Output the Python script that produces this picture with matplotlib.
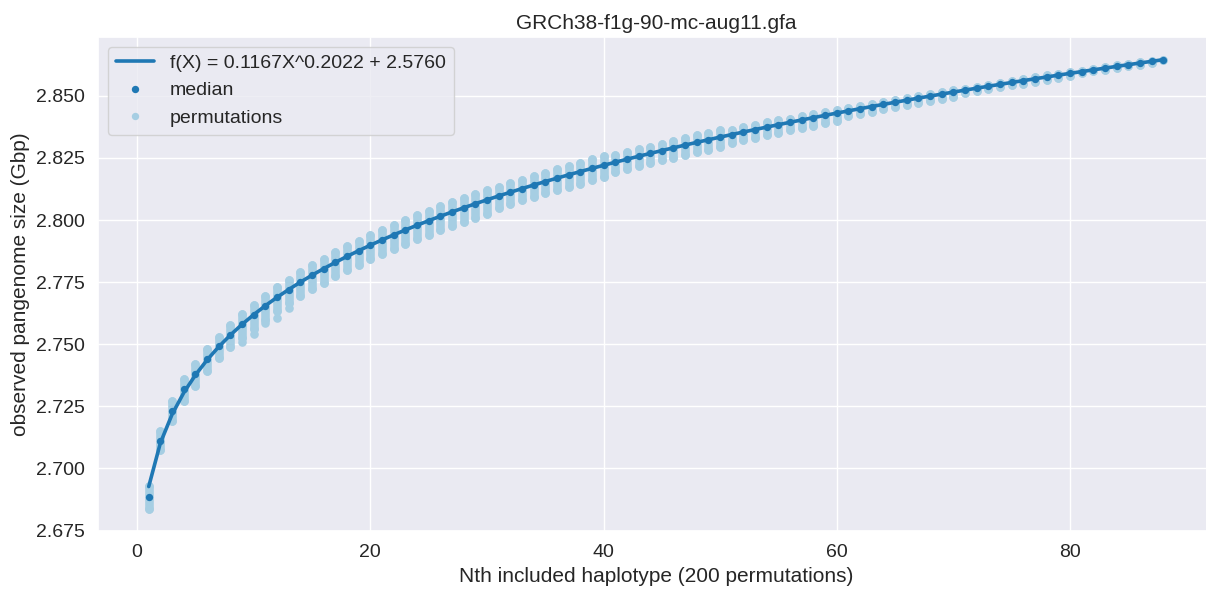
import matplotlib
matplotlib.use("Agg")
import matplotlib.pyplot as plt
import seaborn as sns
import numpy as np
from matplotlib.lines import Line2D

sns.set_theme(style="darkgrid")
plt.rcParams['font.family'] = ['Liberation Sans', 'DejaVu Sans']

# ---- data ----
haplotypes = list(range(1, 89))

median = [2.6885, 2.7112, 2.7230, 2.7318, 2.7380, 2.7439, 2.7491, 2.7537, 2.7580, 2.7619,
          2.7655, 2.7689, 2.7720, 2.7750, 2.7778, 2.7804, 2.7830, 2.7854, 2.7877, 2.7899,
          2.7920, 2.7940, 2.7960, 2.7979, 2.7997, 2.8015, 2.8032, 2.8049, 2.8066, 2.8081,
          2.8097, 2.8112, 2.8127, 2.8141, 2.8155, 2.8169, 2.8182, 2.8195, 2.8208, 2.8220,
          2.8233, 2.8245, 2.8257, 2.8268, 2.8280, 2.8291, 2.8302, 2.8313, 2.8323, 2.8334,
          2.8344, 2.8354, 2.8364, 2.8374, 2.8384, 2.8394, 2.8403, 2.8412, 2.8422, 2.8431,
          2.8440, 2.8448, 2.8457, 2.8466, 2.8474, 2.8483, 2.8491, 2.8499, 2.8507, 2.8515,
          2.8523, 2.8531, 2.8539, 2.8546, 2.8554, 2.8561, 2.8569, 2.8576, 2.8583, 2.8591,
          2.8598, 2.8605, 2.8612, 2.8619, 2.8626, 2.8632, 2.8639, 2.8646]

perm_max = [2.6930, 2.7152, 2.7270, 2.7358, 2.7420, 2.7479, 2.7531, 2.7577, 2.7620, 2.7659,
            2.7695, 2.7729, 2.7760, 2.7790, 2.7818, 2.7844, 2.7870, 2.7894, 2.7917, 2.7939,
            2.7960, 2.7980, 2.8000, 2.8019, 2.8037, 2.8055, 2.8072, 2.8089, 2.8106, 2.8121,
            2.8133, 2.8148, 2.8163, 2.8177, 2.8191, 2.8205, 2.8218, 2.8231, 2.8244, 2.8256,
            2.8261, 2.8273, 2.8285, 2.8296, 2.8308, 2.8319, 2.8330, 2.8341, 2.8351, 2.8362,
            2.8364, 2.8374, 2.8384, 2.8394, 2.8404, 2.8408, 2.8417, 2.8426, 2.8436, 2.8445,
            2.8450, 2.8458, 2.8467, 2.8476, 2.8484, 2.8493, 2.8501, 2.8509, 2.8517, 2.8525,
            2.8529, 2.8537, 2.8545, 2.8552, 2.8560, 2.8567, 2.8575, 2.8582, 2.8589, 2.8597,
            2.8602, 2.8609, 2.8616, 2.8623, 2.8630, 2.8635, 2.8641, 2.8646]

perm_min = [2.6838, 2.7076, 2.7192, 2.7270, 2.7332, 2.7391, 2.7443, 2.7489, 2.7524, 2.7563,
            2.7599, 2.7633, 2.7664, 2.7694, 2.7722, 2.7748, 2.7774, 2.7798, 2.7821, 2.7843,
            2.7864, 2.7884, 2.7904, 2.7923, 2.7941, 2.7959, 2.7976, 2.7993, 2.8010, 2.8025,
            2.8049, 2.8064, 2.8079, 2.8093, 2.8107, 2.8121, 2.8134, 2.8147, 2.8160, 2.8172,
            2.8193, 2.8205, 2.8217, 2.8228, 2.8240, 2.8251, 2.8262, 2.8273, 2.8283, 2.8294,
            2.8312, 2.8322, 2.8332, 2.8342, 2.8352, 2.8362, 2.8371, 2.8380, 2.8390, 2.8399,
            2.8420, 2.8428, 2.8437, 2.8446, 2.8454, 2.8463, 2.8471, 2.8479, 2.8487, 2.8495,
            2.8511, 2.8519, 2.8527, 2.8534, 2.8542, 2.8549, 2.8557, 2.8564, 2.8571, 2.8579,
            2.8592, 2.8599, 2.8606, 2.8613, 2.8620, 2.8626, 2.8633, 2.8646]

outlier_x = [9, 10, 11, 12, 13]
outlier_y = [2.7510, 2.7543, 2.7587, 2.7607, 2.7647]

fit_a, fit_b, fit_c = 0.1167, 0.2022, 2.5760

title = "GRCh38-f1g-90-mc-aug11.gfa"
xlabel = "Nth included haplotype (200 permutations)"
ylabel = "observed pangenome size (Gbp)"

# ---- plot ----
light = "#a6cee3"
dark = "#1f78b4"

fig = plt.figure(figsize=(12.06, 5.96), dpi=100)
ax = fig.add_axes([98 / 1206, 65 / 596, 1116 / 1206, 494 / 596])

ms = 6.2
ax.vlines(haplotypes, perm_min, perm_max, colors=light, linewidth=ms,
          capstyle='round', zorder=2)
ax.scatter(haplotypes + haplotypes + outlier_x, perm_min + perm_max + outlier_y,
           s=ms ** 2, color=light, linewidths=0, zorder=2)

xs = np.array(haplotypes, dtype=float)
fit = fit_a * xs ** fit_b + fit_c
ax.plot(xs, fit, color=dark, linewidth=2.6, zorder=3)
ax.scatter(haplotypes, median, s=28, color=dark, linewidths=0, zorder=4)

ax.set_xlim(-3.35, 92.35)
ax.set_ylim(2.6748, 2.8737)
ax.set_yticks([2.675, 2.700, 2.725, 2.750, 2.775, 2.800, 2.825, 2.850])
ax.yaxis.set_major_formatter(matplotlib.ticker.FormatStrFormatter('%.3f'))
ax.set_xticks([0, 20, 40, 60, 80])

ax.tick_params(labelsize=14)
ax.set_title(title, fontsize=15)
ax.set_xlabel(xlabel, fontsize=15)
ax.set_ylabel(ylabel, fontsize=15)

handles = [
    Line2D([], [], color=dark, linewidth=2.6),
    Line2D([], [], color=dark, marker='o', linestyle='none', markersize=5.3, markeredgewidth=0),
    Line2D([], [], color=light, marker='o', linestyle='none', markersize=5.3, markeredgewidth=0),
]
labels = [f"f(X) = {fit_a:.4f}X^{fit_b:.4f} + {fit_c:.4f}", "median", "permutations"]
ax.legend(handles, labels, loc='upper left', fontsize=14, frameon=True)

fig.savefig("out.png", dpi=100)
